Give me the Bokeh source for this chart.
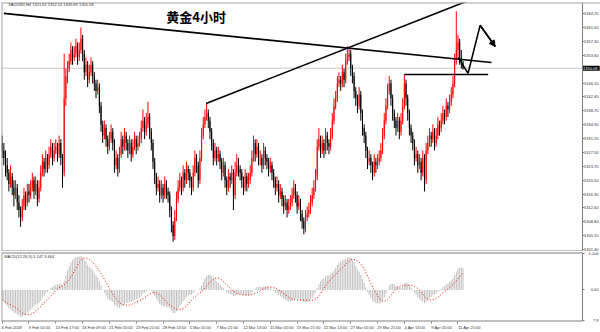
from bokeh.plotting import figure
from bokeh.layouts import column
from bokeh.models import (Range1d, FixedTicker, Label, Arrow, NormalHead, LinearAxis,
                          ColumnDataSource, Span, PrintfTickFormatter)
from bokeh.embed import file_html
from bokeh.resources import INLINE

symbol_title = "XAUUSD,H4  1351.61 1352.10 1349.69 1350.08"
chart_title = "黄金4小时"
macd_title = "MACD(12,26,9) 5.147 3.464"

opens = [1330,1328,1326,1324,1322,1319,1321,1318,1316,1318,1314,1312,1310,1313,1316,1314,
         1317,1316,1318,1320,1317,1319,1315,1318,1322,1325,1323,1326,1324,1327,1329,1326,
         1328,1329,1327,1330,1326,1322,1342,1348,1350,1352,1355,1353,1354,1356,1353,1355,1358,1354,1349,1351,
         1347,1349,1351,1348,1346,1344,1345,1340,1335,1332,1334,1331,1329,1331,1333,1330,1324,1326,1323,1327,
         1331,1329,1332,1330,1328,1330,1327,1329,1331,1329,
         1330,1331,1334,1336,1333,1335,1337,1333,1330,1325,1321,1318,1319,1316,1318,1316,1319,1317,
         1316,1312,1308,1305,1310,1315,1318,1320,1318,1322,1320,1323,1322,1320,1318,1322,1326,1324,1320,1326,1332,1335,1337,1338,
         1336,1333,1330,1326,1328,1326,1327,1325,1322,1324,1320,1318,1321,1320,1322,1316,1322,1324,
         1323,1322,1320,1318,1321,1319,1320,1322,1326,1330,1327,1329,1326,1326,1324,1328,1326,1325,
         1323,1324,1322,1320,1318,1319,1316,1317,1315,1313,1314,1312,1313,1314,1316,1318,1316,1313,
         1314,1311,1309,1307,1310,1311,1312,1314,1316,1318,1321,1329,1331,1328,1330,1328,1332,1330,
         1329,1332,1336,1340,1342,1346,1347,1346,1349,1347,1352,1353,1354,1350,1348,1344,1342,1340,
         1343,1338,1334,1332,1328,1325,1326,1324,1322,1325,1324,1325,1326,1328,1332,1336,1340,1344,
         1346,1342,1338,1336,1334,1336,1333,1336,1340,1346,1342,1338,1334,1332,1330,1326,1327,1324,
         1325,1322,1326,1320,1328,1330,1332,1331,1333,1330,1332,1335,1334,1336,1338,1337,1340,1339,
         1341,1343,1346,1352,1355,1357,1353,1351.61]

highs = [1332,1330,1328,1326,1323,1324,1322,1320,1320,1319,1316,1313,1315,1318,1317,1319,
         1319,1320,1322,1321,1321,1320,1320,1324,1327,1326,1328,1327,1329,1331,1330,1330,
         1331,1330,1332,1331,1327,1354,1350,1352,1354,1357,1356,1356,1358,1357,1357,1361,1359,1355,1353,1352,
         1351,1353,1352,1349,1347,1347,1346,1341,1336,1336,1335,1332,1333,1335,1334,1331,1328,1327,1329,1333,
         1332,1334,1333,1331,1332,1331,1331,1333,1332,1332,
         1333,1336,1339,1337,1338,1341,1338,1334,1331,1326,1322,1321,1320,1320,1319,1321,1320,1318,
         1317,1313,1309,1312,1317,1320,1322,1321,1324,1323,1325,1324,1323,1321,1324,1328,1327,1325,1328,1334,1337,1339,1340.6,1339,
         1337,1334,1331,1330,1329,1329,1328,1326,1326,1325,1321,1323,1322,1324,1323,1325,1327,1326,
         1324,1323,1321,1323,1322,1322,1324,1328,1332,1331,1331,1330,1328,1327,1330,1329,1327,1326,
         1326,1325,1323,1321,1321,1320,1319,1318,1316,1316,1315,1315,1316,1318,1320,1319,1317,1316,
         1315,1312,1310,1312,1313,1314,1316,1318,1320,1323,1331,1334,1332,1332,1331,1334,1333,1331,
         1334,1338,1342,1344,1348,1349,1348,1351,1350,1354,1356,1355.5,1355,1351,1349,1345,1343,1345,
         1344,1339,1335,1333,1329,1328,1327,1325,1327,1326,1327,1328,1330,1334,1338,1342,1346,1348,
         1347,1343,1339,1337,1338,1337,1338,1342,1348.5,1347,1343,1339,1335,1333,1331,1329,1328,1327,
         1326,1328,1327,1330,1332,1334,1333,1335,1334,1334,1337,1336,1338,1340,1339,1342,1341,1343,
         1345,1348,1354,1365.4,1359,1358,1355,1352.10]

lows = [1326,1324,1321,1320,1317,1318,1316,1313,1315,1312,1310,1307.5,1309,1312,1312,1313,
        1314,1315,1317,1315,1316,1313,1314,1317,1321,1321,1322,1322,1323,1326,1324,1325,
        1327,1325,1326,1324,1318,1321,1340,1346,1349,1351,1351,1352,1353,1351,1352,1354,1352,1347,1348,1345,
        1346,1348,1346,1344,1342,1343,1338,1333,1330,1331,1329,1327,1328,1330,1328,1322,1323,1321,1322,1326,
        1327,1328,1328,1326,1327,1325,1326,1328,1327,1328,
        1329,1330,1333,1331,1332,1334,1331,1328,1323,1319,1316,1317,1314,1315,1314,1315,1315,1314,
        1310,1306,1303.5,1304,1309,1314,1317,1316,1317,1318,1319,1320,1318,1316,1317,1321,1322,1318,1319,1325,1331,1334,1336,1334,
        1331,1328,1324,1325,1324,1325,1323,1320,1321,1318,1316,1317,1318,1319,1312,1315,1321,1321,
        1320,1318,1316,1317,1317,1318,1319,1321,1325,1325,1326,1324,1324,1322,1323,1324,1323,1321,
        1322,1320,1318,1316,1317,1314,1315,1313,1311,1312,1310,1311,1312,1313,1315,1314,1311,1312,
        1309,1307,1305.5,1306,1309,1310,1311,1313,1315,1317,1320,1328,1326,1327,1326,1327,1328,1327,
        1328,1331,1335,1339,1341,1345,1344,1345,1345,1346,1351,1352,1348,1346,1342,1340,1338,1339,
        1336,1332,1330,1326,1323,1324,1322,1320,1321,1322,1323,1324,1325,1327,1331,1335,1339,1343,
        1340,1336,1334,1332,1333,1331,1332,1335,1339,1340,1336,1332,1330,1328,1324,1325,1322,1323,
        1320,1321,1317,1319,1327,1329,1329,1330,1328,1329,1331,1332,1333,1335,1335,1336,1337,1338,
        1340,1342,1345,1351,1353,1351,1350,1349.69]

closes = [1328,1326,1324,1322,1319,1321,1318,1316,1318,1314,1312,1310,1313,1316,1314,1317,
          1316,1318,1320,1317,1319,1315,1318,1322,1325,1323,1326,1324,1327,1329,1326,1328,
          1329,1327,1330,1326,1322,1342,1348,1350,1352,1355,1353,1354,1356,1353,1355,1358,1354,1349,1351,1347,
          1349,1351,1348,1346,1344,1345,1340,1335,1332,1334,1331,1329,1331,1333,1330,1324,1326,1323,1327,1331,
          1329,1332,1330,1328,1330,1327,1329,1331,1329,1330,
          1331,1334,1336,1333,1335,1337,1333,1330,1325,1321,1318,1319,1316,1318,1316,1319,1317,1316,
          1312,1308,1305,1310,1315,1318,1320,1318,1322,1320,1323,1322,1320,1318,1322,1326,1324,1320,1326,1332,1335,1337,1338,1336,
          1333,1330,1326,1328,1326,1327,1325,1322,1324,1320,1318,1321,1320,1322,1316,1322,1324,1323,
          1322,1320,1318,1321,1319,1320,1322,1326,1330,1327,1329,1326,1326,1324,1328,1326,1325,1323,
          1324,1322,1320,1318,1319,1316,1317,1315,1313,1314,1312,1313,1314,1316,1318,1316,1313,1314,
          1311,1309,1307,1310,1311,1312,1314,1316,1318,1321,1329,1331,1328,1330,1328,1332,1330,1329,
          1332,1336,1340,1342,1346,1347,1346,1349,1347,1352,1353,1354,1350,1348,1344,1342,1340,1343,
          1338,1334,1332,1328,1325,1326,1324,1322,1325,1324,1325,1326,1328,1332,1336,1340,1344,1346,
          1342,1338,1336,1334,1336,1333,1336,1340,1346,1342,1338,1334,1332,1330,1326,1327,1324,1325,
          1322,1326,1320,1328,1330,1332,1331,1333,1330,1332,1335,1334,1336,1338,1337,1340,1339,1341,
          1343,1346,1352,1355,1357,1353,1352,1350.08]

# indicator state carried in from before the first visible bar
prior_ema12 = 1336.0
prior_ema26 = 1338.0

date_labels = ["6 Feb 2018", "9 Feb 01:00", "13 Feb 17:00", "16 Feb 09:00", "21 Feb 05:00",
               "23 Feb 21:00", "28 Feb 13:00", "5 Mar 05:00", "7 Mar 21:00", "12 Mar 13:00",
               "15 Mar 05:00", "19 Mar 21:00", "22 Mar 13:00", "27 Mar 05:00", "29 Mar 21:00",
               "4 Apr 13:00", "9 Apr 05:00", "11 Apr 21:00"]
date_label_bars = [0, 16, 32, 48, 64, 80, 96, 112, 128, 144, 160, 176, 192, 208, 224, 240, 256, 272]

price_ticks = [1364.70, 1361.00, 1357.30, 1353.60, 1346.10, 1342.40, 1338.70, 1334.90,
               1331.20, 1327.50, 1323.70, 1320.00, 1316.30, 1312.60, 1308.80, 1305.10, 1301.40]
macd_ticks = [9.208, 0.0, -7.8]
macd_tick_labels = ["9.208", "0.00", "-7.8"]
last_price = 1350.08

# hand-drawn objects, as (bar index, price) anchors
resist_bars, resist_prices = [1, 292], [1364.8, 1351.6]
support_bars, support_prices = [121.7, 278.6], [1340.6, 1368.3]
neck_bars, neck_prices = [240, 290], [1348.4, 1348.4]
path_bars = [272.1, 278.0, 285.2, 294.2]
path_prices = [1353.0, 1348.7, 1361.6, 1355.9]

# ---------------------------------------------------------------
N = len(closes)
bars = list(range(N))
up = [closes[i] >= opens[i] for i in range(N)]
colors = ["#ff0000" if u else "#000000" for u in up]
src = ColumnDataSource(dict(
    x=bars, o=opens, h=highs, l=lows, c=closes, col=colors,
    top=[max(opens[i], closes[i]) for i in range(N)],
    bot=[min(opens[i], closes[i]) for i in range(N)]))

def ema(series, n, prior):
    k = 2.0 / (n + 1)
    out = []
    prev = prior
    for v in series:
        prev = prev + k * (v - prev)
        out.append(prev)
    return out

e12 = ema(closes, 12, prior_ema12)
e26 = ema(closes, 26, prior_ema26)
macd_main = [a - b for a, b in zip(e12, e26)]
signal = []
for i in range(N):
    w = macd_main[max(0, i - 8):i + 1]
    signal.append(sum(w) / len(w))

SMALL = "4px"
FONT = "Liberation Sans"
GREY = "#808080"
EDGE = "#a0a0a0"

# Both panes: chart area from x=1 to the window edge; the price/indicator scales are
# drawn at the bar position X1 (pixel ~582) with their labels to the right of it.
X0, X1 = -0.4, 346.3
SCALE_PX, FRAME_PX = 581, 599
x_rng = Range1d(X0, X0 + (X1 - X0) * FRAME_PX / SCALE_PX)
Y0, Y1 = 1300.87, 1367.73
M0, M1 = -8.0, 9.5


def right_scale(ticks, formatter=None, overrides=None):
    ax = LinearAxis(fixed_location=X1, ticker=FixedTicker(ticks=ticks))
    if formatter is not None:
        ax.formatter = formatter
    if overrides is not None:
        ax.major_label_overrides = overrides
    ax.major_label_text_font_size = SMALL
    ax.major_label_text_font = FONT
    ax.major_label_text_color = "#333333"
    ax.major_tick_out = 0
    ax.major_tick_in = 2
    ax.minor_tick_out = 0
    ax.minor_tick_in = 0
    ax.major_label_standoff = -16
    ax.axis_line_color = GREY
    ax.major_tick_line_color = GREY
    return ax


main = figure(width=600, height=251, x_range=x_rng, y_range=Range1d(Y0, Y1),
              output_backend="svg", toolbar_location=None, x_axis_location=None,
              y_axis_location=None, min_border_left=1, min_border_top=2,
              min_border_bottom=0, min_border_right=0)
main.grid.visible = False
main.outline_line_color = None
main.background_fill_color = "white"
main.border_fill_color = "white"
main.add_layout(right_scale(price_ticks, formatter=PrintfTickFormatter(format="%.2f")), "left")

# pane edges
main.add_layout(Span(location=X0 + 0.001, dimension="height", line_color=EDGE, line_width=2))
main.add_layout(Span(location=Y1, dimension="width", line_color=EDGE, line_width=2))
main.line([X0, X1], [Y0, Y0], line_color=GREY, line_width=2)

main.line([X0, X1], [last_price, last_price], line_color="#c8c8c8", line_width=1)

main.segment(x0="x", y0="l", x1="x", y1="h", color="col", line_width=1, source=src)
main.vbar(x="x", width=0.6, top="top", bottom="bot", fill_color="col", line_color=None,
          source=src)

main.line(resist_bars, resist_prices, line_color="black", line_width=1.6)
main.line(support_bars, support_prices, line_color="black", line_width=1.6)
main.line(neck_bars, neck_prices, line_color="black", line_width=1.6)
main.line(path_bars, path_prices, line_color="black", line_width=1.6)
main.add_layout(Arrow(end=NormalHead(size=6, fill_color="black", line_color="black"),
                      x_start=path_bars[-2], y_start=path_prices[-2],
                      x_end=path_bars[-1], y_end=path_prices[-1],
                      line_color="black", line_width=1.6))

main.add_layout(Label(x=3.6, y=1367.2, text=symbol_title, text_font_size=SMALL, text_font=FONT,
                      text_color="#333333", text_baseline="middle"))
main.add_layout(Label(x=97.9, y=1364.0, text=chart_title, text_font_size="13px",
                      text_font="Noto Sans CJK SC", text_font_style="bold",
                      text_color="black", text_baseline="middle"))
main.add_layout(Label(x=X1, y=last_price, text=" 1350.08 ", text_font_size=SMALL, text_font=FONT,
                      text_color="white", background_fill_color="black", background_fill_alpha=1.0,
                      text_baseline="middle", text_align="left", x_offset=0.5))

# ---------------- MACD panel ----------------
mp = figure(width=600, height=81, x_range=x_rng, y_range=Range1d(M0, M1),
            output_backend="svg", toolbar_location=None, y_axis_location=None,
            min_border_left=1, min_border_top=1, min_border_bottom=10, min_border_right=0)
mp.grid.visible = False
mp.outline_line_color = None
mp.add_layout(right_scale(macd_ticks, overrides={t: s for t, s in zip(macd_ticks, macd_tick_labels)}),
              "left")

mp.add_layout(Span(location=X0 + 0.001, dimension="height", line_color=EDGE, line_width=2))
mp.line([X0, X1], [M1, M1], line_color=GREY, line_width=2)
mp.line([X0, X1], [M0, M0], line_color=GREY, line_width=2)

mp.segment(x0=bars, y0=[0] * N, x1=bars, y1=macd_main, line_color="#c0c0c0", line_width=1)
mp.line(bars, signal, line_color="#ff0000", line_dash="1 2", line_width=1)

mx = mp.xaxis[0]
centers = [b + len(s) * 0.57 for b, s in zip(date_label_bars, date_labels)]
mx.ticker = FixedTicker(ticks=centers, minor_ticks=date_label_bars)
mx.major_label_overrides = {c: s for c, s in zip(centers, date_labels)}
mx.major_label_text_font_size = SMALL
mx.major_label_text_font = FONT
mx.major_label_text_color = "#333333"
mx.major_tick_out = 0
mx.major_tick_in = 0
mx.minor_tick_out = 2
mx.minor_tick_in = 0
mx.minor_tick_line_color = GREY
mx.major_label_standoff = 1
mx.axis_line_color = None

mp.add_layout(Label(x=1.2, y=8.4, text=macd_title, text_font_size=SMALL, text_font=FONT,
                    text_color="#333333", text_baseline="middle"))

layout = column(main, mp, spacing=0)
open("out.html", "w").write(file_html(layout, INLINE))
